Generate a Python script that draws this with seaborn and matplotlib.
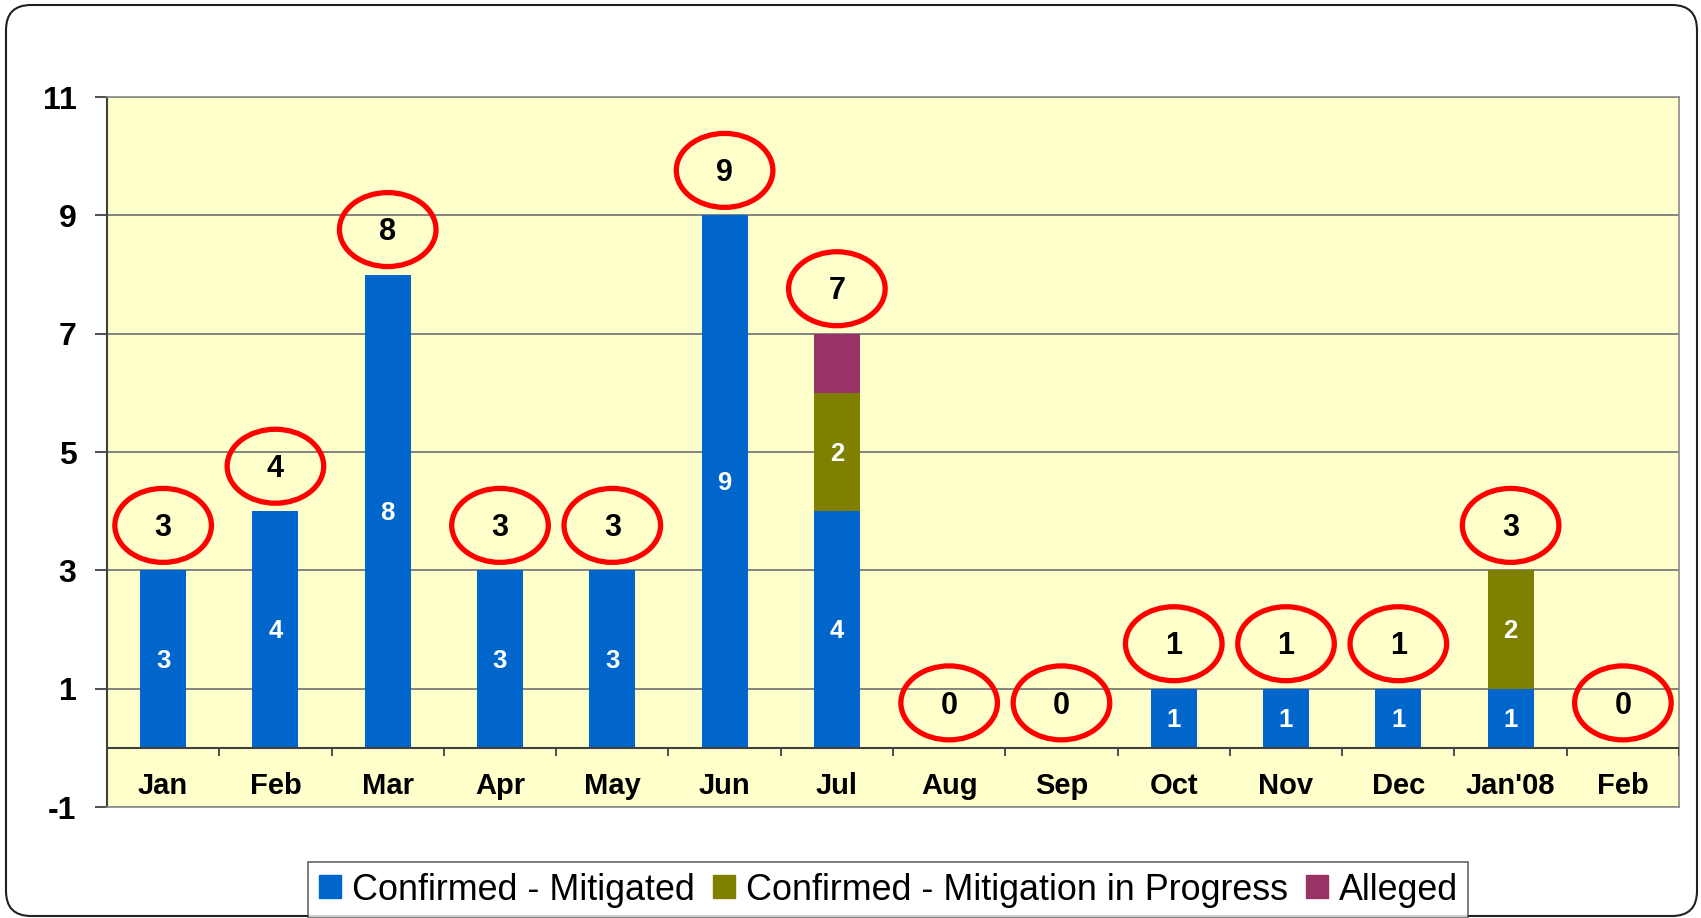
import matplotlib
matplotlib.use("Agg")
import matplotlib.pyplot as plt
import matplotlib.transforms as mtransforms
from matplotlib.patches import Ellipse, FancyBboxPatch, Patch
import pandas as pd
import seaborn as sns

months = ["Jan", "Feb", "Mar", "Apr", "May", "Jun", "Jul",
          "Aug", "Sep", "Oct", "Nov", "Dec", "Jan'08", "Feb"]
mitigated = [3, 4, 8, 3, 3, 9, 4, 0, 0, 1, 1, 1, 1, 0]
in_progress = [0, 0, 0, 0, 0, 0, 2, 0, 0, 0, 0, 0, 2, 0]
alleged = [0, 0, 0, 0, 0, 0, 1, 0, 0, 0, 0, 0, 0, 0]
series_names = ["Confirmed - Mitigated", "Confirmed - Mitigation in Progress", "Alleged"]
y_ticks = [-1, 1, 3, 5, 7, 9, 11]

BLUE = "#0066CC"
OLIVE = "#808000"
PLUM = "#993366"
BG = "#FFFFCC"

sns.set_theme(style="white")
plt.rcParams["font.family"] = ["Liberation Sans", "DejaVu Sans"]
plt.rcParams["text.color"] = "black"
plt.rcParams["ytick.labelcolor"] = "black"

df = pd.DataFrame({
    "pos": range(len(months)),
    "mitigated": mitigated,
    "in_progress": in_progress,
    "alleged": alleged,
})
df["base2"] = df["mitigated"]
df["base3"] = df["mitigated"] + df["in_progress"]
df["total"] = df["base3"] + df["alleged"]

fig = plt.figure(figsize=(17.01, 9.18), dpi=100)
ax = fig.add_axes([0.0629, 0.1209, 0.9242, 0.7734])
ax.set_facecolor(BG)

bar_kw = dict(x="pos", width=0.41, saturation=1, errorbar=None, linewidth=0, ax=ax, zorder=3)
sns.barplot(data=df, y="mitigated", color=BLUE, **bar_kw)
sns.barplot(data=df, y="in_progress", color=OLIVE, bottom=df["base2"].values, **bar_kw)
sns.barplot(data=df, y="alleged", color=PLUM, bottom=df["base3"].values, **bar_kw)

ax.set_xlim(-0.5, len(months) - 0.5)
ax.set_ylim(-1, 11)
ax.set_yticks(y_ticks)
ax.set_yticklabels([str(v) for v in y_ticks], fontsize=23, fontweight="bold", color="black")
ax.set_xticks([])
ax.set_xlabel("")
ax.set_ylabel("")
ax.tick_params(axis="y", length=9, width=1.3, color="#404040", pad=13, left=True)
ax.yaxis.grid(True, color="#707070", linewidth=1.2)
ax.set_axisbelow(True)
for side in ["top", "right", "bottom"]:
    ax.spines[side].set_color("#8a8a8a")
    ax.spines[side].set_linewidth(1.2)
ax.spines["left"].set_color("#404040")
ax.spines["left"].set_linewidth(1.5)

# category axis at zero with boundary ticks
ax.axhline(0, color="#404040", linewidth=1.5, zorder=4)
ax.vlines([i - 0.5 for i in range(len(months) + 1)], -0.14, 0, color="#404040", linewidth=1.3, zorder=4)
for i, m in enumerate(months):
    ax.text(i, -0.78, m, ha="center", va="baseline", fontsize=21, fontweight="bold",
            color="black", zorder=5)

# value labels inside segments
for i in range(len(months)):
    if mitigated[i] > 0:
        ax.text(i, mitigated[i] / 2 - 0.15, str(mitigated[i]), ha="center", va="baseline",
                color="white", fontsize=18.5, fontweight="bold", zorder=5)
    if in_progress[i] > 0:
        ax.text(i, mitigated[i] + in_progress[i] / 2 - 0.15, str(in_progress[i]), ha="center",
                va="baseline", color="white", fontsize=18.5, fontweight="bold", zorder=5)

# circled totals
for i, t in enumerate(df["total"]):
    cy = t + 0.76
    ax.add_patch(Ellipse((i, cy), 0.86, 1.25, fill=False, edgecolor="#FF0000",
                         linewidth=3.8, zorder=6))
    ax.text(i, cy - 0.18, str(t), ha="center", va="baseline", fontsize=22,
            fontweight="bold", color="black", zorder=7)

handles = [Patch(color=c) for c in [BLUE, OLIVE, PLUM]]
leg = fig.legend(handles, series_names, loc="center", bbox_to_anchor=(0.5223, 0.0305),
                 ncol=3, fontsize=25.8, frameon=True, fancybox=False, edgecolor="#404040",
                 handlelength=0.62, handleheight=0.62, handletextpad=0.3,
                 columnspacing=0.5, borderpad=0.3, borderaxespad=0, labelcolor="black")
leg.get_frame().set_linewidth(1.2)

# rounded outer border
border = FancyBboxPatch((6, 2), 1691, 911, boxstyle="round,pad=0,rounding_size=25",
                        transform=mtransforms.IdentityTransform(), fill=False,
                        edgecolor="#202020", linewidth=1.5)
fig.patches.append(border)

fig.savefig("out.png", dpi=100)
